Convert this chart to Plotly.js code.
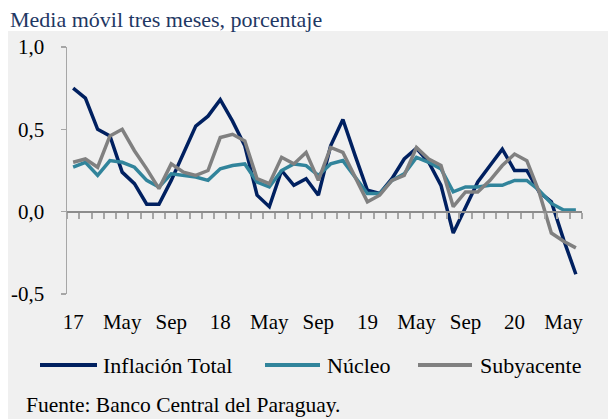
<!DOCTYPE html>
<html><head><meta charset="utf-8">
<script src="https://cdn.plot.ly/plotly-3.0.1.min.js"></script>
<style>html,body{margin:0;padding:0;background:#fff;}</style>
</head><body><div id="chart" style="width:608px;height:419px;"></div>
<script>
// Monthly series, Jan 2017 .. Jun 2020
const months = ['2017-01','2017-02','2017-03','2017-04','2017-05','2017-06','2017-07','2017-08','2017-09','2017-10','2017-11','2017-12',
  '2018-01','2018-02','2018-03','2018-04','2018-05','2018-06','2018-07','2018-08','2018-09','2018-10','2018-11','2018-12',
  '2019-01','2019-02','2019-03','2019-04','2019-05','2019-06','2019-07','2019-08','2019-09','2019-10','2019-11','2019-12',
  '2020-01','2020-02','2020-03','2020-04','2020-05','2020-06'];
const inflacionTotal = [0.75,0.69,0.50,0.46,0.24,0.17,0.045,0.045,0.19,0.35,
  0.52,0.58,0.68,0.55,0.40,0.10,0.03,0.25,0.16,0.20,
  0.10,0.40,0.56,0.34,0.13,0.11,0.20,0.32,0.385,0.30,
  0.16,-0.13,0.02,0.18,0.28,0.38,0.25,0.25,0.12,0.06,
  -0.17,-0.38];
const nucleo = [0.27,0.30,0.22,0.31,0.30,0.27,0.19,0.15,0.23,0.22,
  0.21,0.19,0.26,0.28,0.29,0.18,0.15,0.25,0.29,0.28,
  0.22,0.29,0.31,0.21,0.11,0.11,0.19,0.23,0.33,0.30,
  0.26,0.12,0.15,0.15,0.16,0.16,0.19,0.19,0.13,0.05,
  0.01,0.01];
const subyacente = [0.30,0.32,0.27,0.46,0.50,0.37,0.26,0.14,0.29,0.24,
  0.22,0.25,0.45,0.47,0.43,0.20,0.17,0.33,0.29,0.36,
  0.19,0.39,0.36,0.21,0.06,0.10,0.19,0.22,0.39,0.32,
  0.28,0.03,0.12,0.12,0.19,0.28,0.35,0.31,0.12,-0.13,
  -0.18,-0.22];
const xTickLabels = ['17','May','Sep','18','May','Sep','19','May','Sep','20','May'];
const yTickVals = [-0.5, 0, 0.5, 1.0];
const yTickLabels = ['-0,5','0,0','0,5','1,0'];
const seriesNames = ['Inflación Total','Núcleo','Subyacente'];
const seriesColors = ['#002060','#31849b','#808080'];
const titleText = 'Media móvil tres meses, porcentaje';
const sourceText = 'Fuente: Banco Central del Paraguay.';

const W = 608, H = 419, M = {l:67, r:26, t:47, b:125};
const pw = W - M.l - M.r, ph = H - M.t - M.b;
const px = v => (v - M.l) / pw;
const py = v => (H - M.b - v) / ph;
const FONT = '"Liberation Serif", serif';

const idx = months.map((m, i) => i);
const allSeries = [inflacionTotal, nucleo, subyacente];
const traces = allSeries.map((s, k) => ({
  type: 'scatter', mode: 'lines', x: idx, y: s, name: seriesNames[k],
  line: {color: seriesColors[k], width: 3.5}, showlegend: false, hoverinfo: 'skip'
}));
// invisible helper trace for the zero-line category axis
traces.unshift({type:'scatter', mode:'lines', x: idx, y: nucleo, xaxis:'x2', yaxis:'y',
  line:{color:'rgba(0,0,0,0)', width:0}, showlegend:false, hoverinfo:'skip'});

const lo = -0.5, hi = months.length - 0.5;
const boundaries = [];
for (let i = 0; i <= months.length; i++) boundaries.push(i - 0.5);
const labelPos = xTickLabels.map((t, i) => i * 4);

const shapes = [{type:'rect', xref:'paper', yref:'paper', x0:px(8), x1:px(608), y0:py(419), y1:py(31),
  fillcolor:'#f0f0f0', line:{width:0}, layer:'below'}];
const annotations = [
  {xref:'paper', yref:'paper', x:px(8), y:py(19), xanchor:'left', yanchor:'middle', showarrow:false,
   text:titleText, font:{family:FONT, size:22, color:'#1f3864'}},
  {xref:'paper', yref:'paper', x:px(25), y:py(405), xanchor:'left', yanchor:'middle', showarrow:false,
   text:sourceText, font:{family:FONT, size:21.5, color:'#000'}, borderpad:0}
];
const legX = [[40, 97, 101], [265, 320, 325], [418, 472, 478]];
seriesNames.forEach((n, k) => {
  shapes.push({type:'line', xref:'paper', yref:'paper', x0:px(legX[k][0]), x1:px(legX[k][1]),
    y0:py(365), y1:py(365), line:{color:seriesColors[k], width:4}});
  annotations.push({xref:'paper', yref:'paper', x:px(legX[k][2]), y:py(365), xanchor:'left', yanchor:'middle',
    showarrow:false, text:n, font:{family:FONT, size:22, color:'#000'}});
});

const layout = {
  width: W, height: H, margin: M,
  paper_bgcolor: '#ffffff', plot_bgcolor: 'rgba(0,0,0,0)',
  showlegend: false,
  font: {family: FONT, size: 21, color: '#000'},
  xaxis: {range:[lo, hi], showline:false, zeroline:false, showgrid:false,
    tickmode:'array', tickvals: labelPos, ticktext: xTickLabels, ticks:'',
    ticklabelstandoff: 13, tickfont:{family:FONT, size:21, color:'#000'}},
  xaxis2: {range:[lo, hi], overlaying:'x', anchor:'free', position: (0 - yTickVals[0]) / (yTickVals[3] - yTickVals[0]),
    showline:true, linecolor:'#8c8c8c', linewidth:2, zeroline:false, showgrid:false,
    tickmode:'array', tickvals: boundaries, ticks:'outside', ticklen:6, tickwidth:2, tickcolor:'#a6a6a6',
    showticklabels:false},
  yaxis: {range:[-0.5, 1.0], showline:true, linecolor:'#a6a6a6', linewidth:1.5, zeroline:false, showgrid:false,
    tickmode:'array', tickvals: yTickVals, ticktext: yTickLabels, ticks:'outside', ticklen:5, tickwidth:1.5,
    tickcolor:'#a6a6a6', ticklabelstandoff: 12, tickfont:{family:FONT, size:21, color:'#000'}},
  shapes: shapes, annotations: annotations
};
Plotly.newPlot('chart', traces, layout, {displayModeBar:false, staticPlot:true});
</script></body></html>
